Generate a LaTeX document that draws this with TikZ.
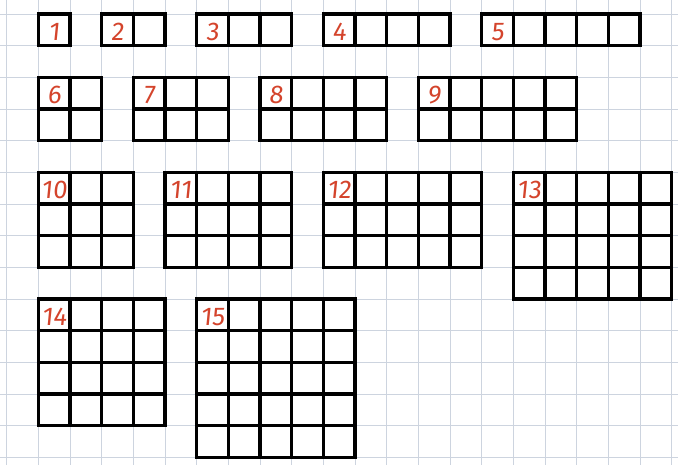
\documentclass[tikz,border=0pt]{standalone}
\usepackage{fontspec}
\newfontfamily\hand[FakeSlant=0.1]{Fira Sans}
\definecolor{gridc}{HTML}{CDD4DF}
\definecolor{numred}{HTML}{D4442C}
\tikzset{
  gridline/.style={draw=gridc, line width=0.7pt},
  cellbox/.style={draw=black, line width=2.9pt, line cap=rect, line join=miter},
  numlabel/.style={text=numred, font=\hand\fontsize{23}{23}\selectfont, inner sep=0pt}
}
\begin{document}
\begin{tikzpicture}[x=1cm,y=-1cm]
\useasboundingbox (-1.21,-0.442) rectangle (20.2,14.24);
\fill[white] (-1.21,-0.442) rectangle (20.2,14.24);
\foreach \i in {-1,...,20} \draw[gridline] (\i,-0.442) -- (\i,14.24);
\foreach \j in {0,...,14} \draw[gridline] (-1.21,\j) -- (20.2,\j);
\foreach \c/\r/\w/\h/\n in {0/0/1/1/1, 2/0/2/1/2, 5/0/3/1/3, 9/0/4/1/4, 14/0/5/1/5,
  0/2/2/2/6, 3/2/3/2/7, 7/2/4/2/8, 12/2/5/2/9,
  0/5/3/3/10, 4/5/4/3/11, 9/5/5/3/12, 15/5/5/4/13,
  0/9/4/4/14, 5/9/5/5/15}{
  \foreach \k in {0,...,\w} \draw[cellbox] (\c+\k,\r) -- (\c+\k,\r+\h);
  \foreach \k in {0,...,\h} \draw[cellbox] (\c,\r+\k) -- (\c+\w,\r+\k);
  \draw[cellbox] (\c,\r) rectangle (\c+\w,\r+\h);
  \node[numlabel] (lab\n) at (\c+0.5,\r+0.56) {\n};
}
\end{tikzpicture}
\end{document}
